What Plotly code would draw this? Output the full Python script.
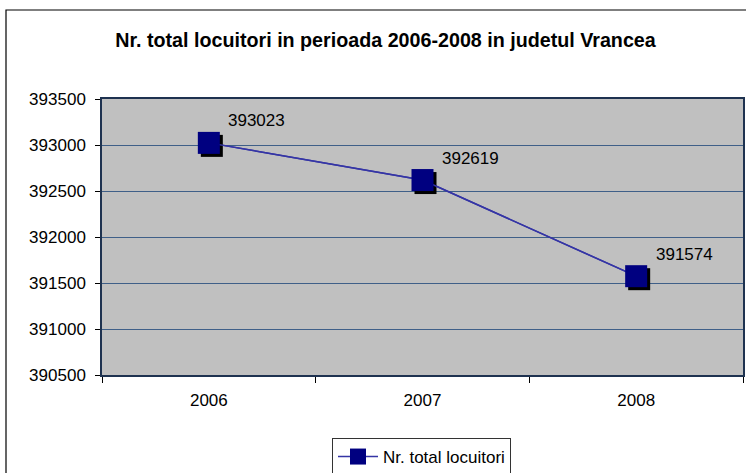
import plotly.graph_objects as go

# ---- data ----
years = ["2006", "2007", "2008"]
locuitori = [393023, 392619, 391574]
series_name = "Nr. total locuitori"
title_text = "Nr. total locuitori in perioada 2006-2008 in judetul Vrancea"
y_min, y_max, y_step = 390500, 393500, 500

# ---- geometry ----
W, H = 746, 473
ml, mr, mt, mb = 102, 3, 99, 98
plot_w = W - ml - mr
plot_h = H - mt - mb
shadow_px = 3
dx = shadow_px * (len(years)) / plot_w          # category units per 3px
dy = shadow_px * (y_max - y_min) / plot_h        # value units per 3px

FONT = "Liberation Sans, Arial, sans-serif"
LINE_COLOR = "#3535a5"
MARKER_COLOR = "#000080"
GRID_COLOR = "#3f5f88"
FRAME_COLOR = "#1e3250"

fig = go.Figure()

# base line (under the shadows)
fig.add_trace(go.Scatter(
    x=years, y=locuitori, mode="lines",
    line=dict(color=LINE_COLOR, width=1.5),
    showlegend=False, hoverinfo="skip",
    xaxis="x", yaxis="y",
))
# marker shadows, drawn on shifted overlay axes
fig.add_trace(go.Scatter(
    x=years, y=locuitori, mode="markers",
    marker=dict(symbol="square", size=22, color="black", line=dict(width=0)),
    showlegend=False, hoverinfo="skip",
    xaxis="x2", yaxis="y2", cliponaxis=False,
))
# main series
fig.add_trace(go.Scatter(
    x=years, y=locuitori, mode="lines+markers", name=series_name,
    line=dict(color=LINE_COLOR, width=1.5),
    marker=dict(symbol="square", size=22, color=MARKER_COLOR, line=dict(width=0)),
    xaxis="x3", yaxis="y3", cliponaxis=False,
))

# data labels (category axis positions given as category index)
for i, v in enumerate(locuitori):
    fig.add_annotation(
        x=i, y=v, xref="x", yref="y", text=str(v), showarrow=False,
        xanchor="center", yanchor="middle", xshift=48, yshift=22,
        font=dict(family=FONT, size=17, color="black"),
    )

# outer chart border (right and bottom sides fall outside the picture)
fig.add_shape(
    type="rect", xref="paper", yref="paper",
    x0=(6 - ml) / plot_w, x1=(W + 40 - ml) / plot_w,
    y0=(plot_h + mt - (H + 40)) / plot_h, y1=(plot_h + mt - 10) / plot_h,
    line=dict(color="black", width=1.2), fillcolor="rgba(0,0,0,0)", layer="below",
)

cat_range = [-0.5, len(years) - 0.5]
fig.update_layout(
    width=W, height=H,
    margin=dict(l=ml, r=mr, t=mt, b=mb, autoexpand=False),
    paper_bgcolor="white",
    plot_bgcolor="#c0c0c0",
    font=dict(family=FONT, size=17, color="black"),
    title=dict(
        text=title_text, x=385.5 / W, xanchor="center",
        y=1 - 40 / H, yanchor="middle",
        font=dict(family=FONT, size=19.7, color="black", weight="bold"),
    ),
    xaxis=dict(
        type="category", categoryorder="array", categoryarray=years,
        range=cat_range, tickson="boundaries", ticks="outside", ticklen=6,
        tickcolor="black", showgrid=False, showline=True, mirror=True,
        linecolor=FRAME_COLOR, linewidth=1.5, ticklabelstandoff=9,
        tickfont=dict(family=FONT, size=17), fixedrange=True,
    ),
    yaxis=dict(
        range=[y_min, y_max], dtick=y_step, tick0=y_min, tickformat="d",
        ticks="outside", ticklen=5, tickcolor="black",
        showgrid=True, gridcolor=GRID_COLOR, gridwidth=1,
        showline=True, mirror=True, linecolor=FRAME_COLOR, linewidth=1.5,
        zeroline=False, ticklabelstandoff=6,
        tickfont=dict(family=FONT, size=17), fixedrange=True,
    ),
    xaxis2=dict(
        type="category", categoryorder="array", categoryarray=years,
        range=[cat_range[0] - dx, cat_range[1] - dx],
        overlaying="x", visible=False, fixedrange=True,
    ),
    yaxis2=dict(
        range=[y_min + dy, y_max + dy], overlaying="y", visible=False,
        fixedrange=True,
    ),
    xaxis3=dict(
        type="category", categoryorder="array", categoryarray=years,
        range=cat_range, overlaying="x", visible=False, fixedrange=True,
    ),
    yaxis3=dict(
        range=[y_min, y_max], overlaying="y", visible=False, fixedrange=True,
    ),
    legend=dict(
        x=(421.5 - ml) / plot_w, xanchor="center",
        y=(plot_h + mt - 438) / plot_h, yanchor="top",
        orientation="h", bgcolor="white", bordercolor="#333333", borderwidth=1,
        font=dict(family=FONT, size=17), itemwidth=40,
    ),
    showlegend=True,
)

fig.write_html(
    "out.html",
    config={"displayModeBar": False},
    post_script="document.body.style.margin='0';document.body.style.padding='0';",
)
